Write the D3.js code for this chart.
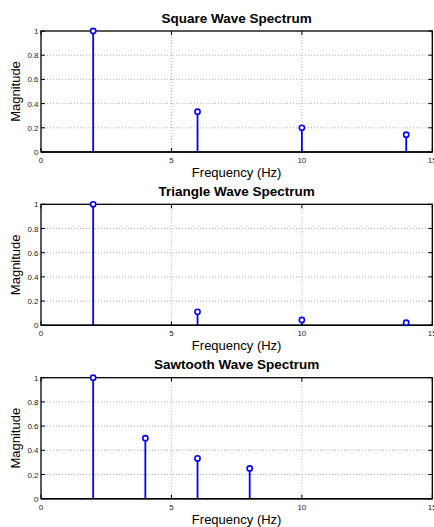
<!doctype html>
<html lang="en">
<head>
  <meta charset="utf-8">
  <title>Wave spectra - D3</title>
  <style>
    body { margin: 0; background: #fff; }
    text { font-family: "Liberation Sans", Arial, Helvetica, sans-serif; }
  </style>
</head>
<body>
  <svg width="434" height="527"></svg>

  <script src="https://cdn.jsdelivr.net/npm/d3@7/dist/d3.min.js"></script>
  <script>
    // data
    var squareFreq = [2, 6, 10, 14];
    var squareMag = [1, 0.333, 0.2, 0.143];
    var triangleFreq = [2, 6, 10, 14];
    var triangleMag = [1, 0.111, 0.044, 0.021];
    var sawFreq = [2, 4, 6, 8];
    var sawMag = [1, 0.5, 0.333, 0.25];
    var titles = ['Square Wave Spectrum', 'Triangle Wave Spectrum', 'Sawtooth Wave Spectrum'];
    var xTicks = [0, 5, 10, 15];
    var yTicks = [0, 0.2, 0.4, 0.6, 0.8, 1];

    var panels = [
      { title: titles[0], f: squareFreq, m: squareMag },
      { title: titles[1], f: triangleFreq, m: triangleMag },
      { title: titles[2], f: sawFreq, m: sawMag }
    ];

    var svg = d3.select('svg');
    var left = 41, right = 432.3, h = 121, tops = [31, 204.3, 377.7];
    var x = d3.scaleLinear().domain([0, 15]).range([left, right]);
    var blue = '#0000ff';

    panels.forEach(function (p, i) {
      var top = tops[i];
      var y = d3.scaleLinear().domain([0, 1]).range([top + h, top]);
      var g = svg.append('g');

      // grid lines (dotted)
      g.selectAll('.gx').data(xTicks.slice(1, -1)).enter()
        .append('line')
        .attr('x1', x).attr('x2', x)
        .attr('y1', top).attr('y2', top + h)
        .attr('stroke', '#999').attr('stroke-width', 0.8)
        .attr('stroke-dasharray', '1,2');
      g.selectAll('.gy').data(yTicks.slice(1, -1)).enter()
        .append('line')
        .attr('x1', left).attr('x2', right)
        .attr('y1', y).attr('y2', y)
        .attr('stroke', '#999').attr('stroke-width', 0.8)
        .attr('stroke-dasharray', '1,2');

      // inner ticks on all four sides
      var tl = 4;
      xTicks.forEach(function (t) {
        g.append('line').attr('x1', x(t)).attr('x2', x(t))
          .attr('y1', top + h).attr('y2', top + h - tl).attr('stroke', '#000');
        g.append('line').attr('x1', x(t)).attr('x2', x(t))
          .attr('y1', top).attr('y2', top + tl).attr('stroke', '#000');
      });
      yTicks.forEach(function (t) {
        g.append('line').attr('x1', left).attr('x2', left + tl)
          .attr('y1', y(t)).attr('y2', y(t)).attr('stroke', '#000');
        g.append('line').attr('x1', right).attr('x2', right - tl)
          .attr('y1', y(t)).attr('y2', y(t)).attr('stroke', '#000');
      });

      // box
      g.append('rect')
        .attr('x', left).attr('y', top)
        .attr('width', right - left).attr('height', h)
        .attr('fill', 'none').attr('stroke', '#000').attr('stroke-width', 1.3);

      // tick labels
      g.selectAll('.xl').data(xTicks).enter()
        .append('text')
        .text(function (d) { return d; })
        .attr('x', x).attr('y', top + h + 11)
        .attr('text-anchor', 'middle')
        .attr('font-size', '8px').attr('fill', '#222');
      g.selectAll('.yl').data(yTicks).enter()
        .append('text')
        .text(function (d) { return d3.format('~g')(d); })
        .attr('x', left - 2.5).attr('y', function (d) { return y(d) + 3; })
        .attr('text-anchor', 'end')
        .attr('font-size', '8px').attr('fill', '#222');

      // stems
      var pts = p.f.map(function (f, k) { return [f, p.m[k]]; });
      g.selectAll('.stem').data(pts).enter()
        .append('line')
        .attr('x1', function (d) { return x(d[0]); })
        .attr('x2', function (d) { return x(d[0]); })
        .attr('y1', y(0))
        .attr('y2', function (d) { return y(d[1]); })
        .attr('stroke', blue).attr('stroke-width', 1.8);
      // baseline
      g.append('line').attr('x1', left).attr('x2', right)
        .attr('y1', y(0)).attr('y2', y(0))
        .attr('stroke', '#000').attr('stroke-width', 1.5);
      g.selectAll('.mk').data(pts).enter()
        .append('circle')
        .attr('cx', function (d) { return x(d[0]); })
        .attr('cy', function (d) { return y(d[1]); })
        .attr('r', 2.6)
        .attr('fill', '#fff').attr('stroke', blue).attr('stroke-width', 1.6);

      // title and axis labels
      g.append('text').text(p.title)
        .attr('x', (left + right) / 2).attr('y', top - 8.5)
        .attr('text-anchor', 'middle')
        .attr('font-size', '13.5px').attr('font-weight', 'bold');
      g.append('text').text('Frequency (Hz)')
        .attr('x', (left + right) / 2).attr('y', top + h + 25)
        .attr('text-anchor', 'middle')
        .attr('font-size', '13px');
      g.append('text').text('Magnitude')
        .attr('transform', 'translate(20,' + (top + h / 2) + ') rotate(-90)')
        .attr('text-anchor', 'middle')
        .attr('font-size', '13px');
    });
  </script>
</body>
</html>
